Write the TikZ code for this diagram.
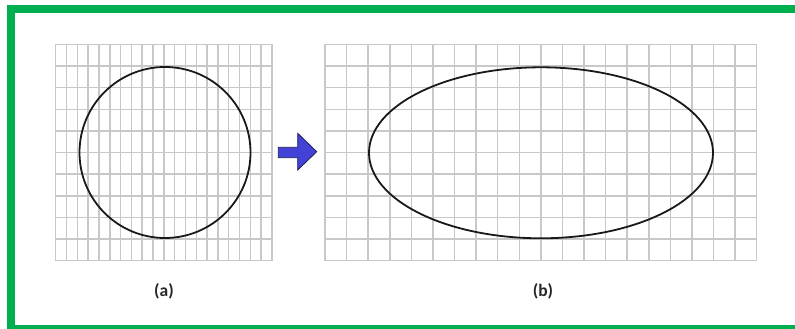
\documentclass[tikz,border=0pt]{standalone}
\usepackage{fontspec}
\setmainfont{Carlito}
\definecolor{framegreen}{RGB}{0,176,80}
\definecolor{gridgray}{RGB}{200,200,200}
\definecolor{arrowblue}{RGB}{66,66,214}
\definecolor{arrowedge}{RGB}{30,30,90}
\begin{document}
\begin{tikzpicture}[x=1pt,y=-1pt,
  gridline/.style={draw=gridgray,line width=1.5pt},
  curveline/.style={draw=black!90,line width=1.8pt},
  frameline/.style={draw=framegreen,line width=7.8pt,line join=miter},
  caption/.style={font=\fontsize{17.5}{20}\selectfont\bfseries,text=black!85,inner sep=0pt}]
\useasboundingbox (0,0) rectangle (795,329);
% green frame
\draw[frameline] (810,9) -- (11.3,9) -- (11.3,329) -- (810,329);
% grid (a)
\foreach \i in {0,...,20} {
  \pgfmathsetmacro\xx{55.7+\i*(272-55.7)/20}
  \draw[gridline] (\xx,44.5) -- (\xx,260.7);
}
\foreach \j in {0,...,10} {
  \pgfmathsetmacro\yy{44.5+\j*(260.7-44.5)/10}
  \draw[gridline] (55.7,\yy) -- (272,\yy);
}
% grid (b)
\foreach \i in {0,...,20} {
  \pgfmathsetmacro\xx{325+\i*(756.7-325)/20}
  \draw[gridline] (\xx,44.5) -- (\xx,260.7);
}
\foreach \j in {0,...,10} {
  \pgfmathsetmacro\yy{44.5+\j*(260.7-44.5)/10}
  \draw[gridline] (325,\yy) -- (756.7,\yy);
}
% circle and ellipse
\draw[curveline] (165,152.5) ellipse [x radius=85.5, y radius=85.5];
\draw[curveline] (541,152.8) ellipse [x radius=172, y radius=85.5];
% arrow
\draw[fill=arrowblue,draw=arrowedge,line width=0.8pt,line join=miter]
  (278.3,147.3) -- (297.7,147.3) -- (297.7,133.3) -- (316.7,151.7)
  -- (297.7,170) -- (297.7,157.7) -- (278.3,157.7) -- cycle;
% captions
\node[caption] (la) at (164,291.5) {(a)};
\node[caption] (lb) at (543,291.5) {(b)};
\end{tikzpicture}
\end{document}
